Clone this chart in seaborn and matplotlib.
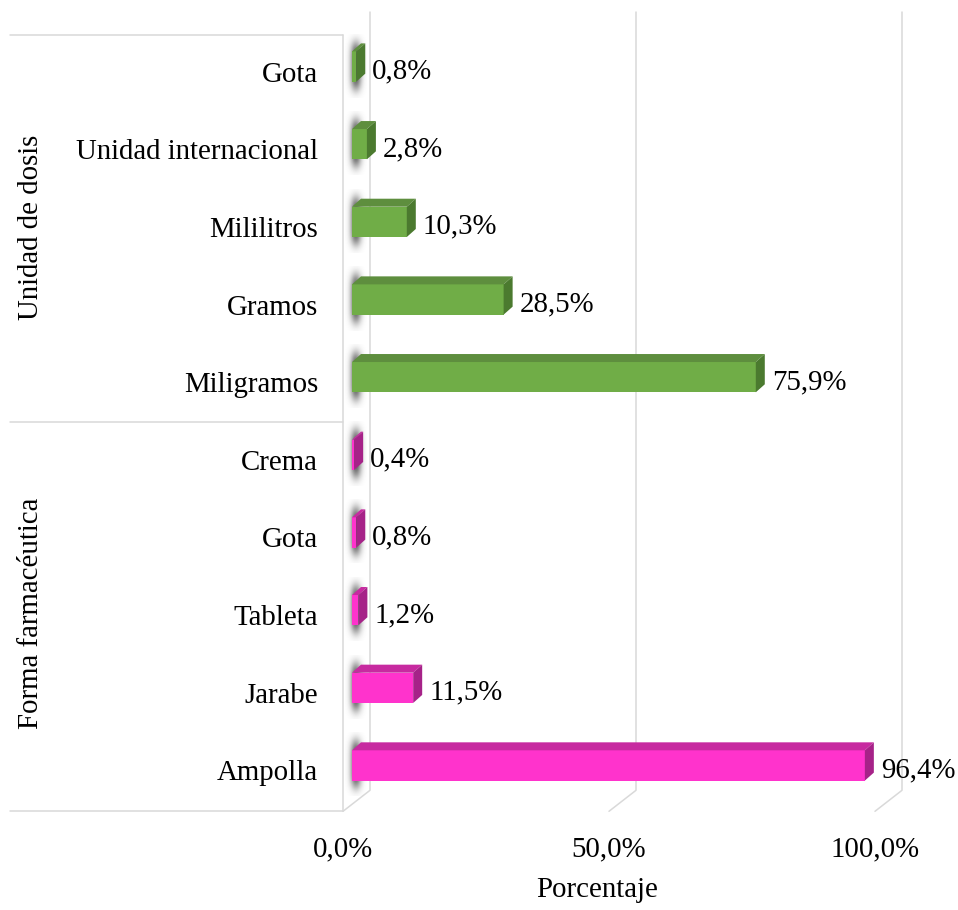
import numpy as np
import pandas as pd
import matplotlib
matplotlib.use("Agg")
import matplotlib.pyplot as plt
import seaborn as sns
from matplotlib.patches import Polygon
from matplotlib.lines import Line2D
from matplotlib.transforms import offset_copy

# ---- data ----
grupos = ["Unidad de dosis", "Forma farmacéutica"]
unidad_labels = ["Gota", "Unidad internacional", "Mililitros", "Gramos", "Miligramos"]
unidad_vals = [0.8, 2.8, 10.3, 28.5, 75.9]
forma_labels = ["Crema", "Gota", "Tableta", "Jarabe", "Ampolla"]
forma_vals = [0.4, 0.8, 1.2, 11.5, 96.4]
x_ticks = [0, 50, 100]
x_tick_labels = ["0,0%", "50,0%", "100,0%"]
x_title = "Porcentaje"

# ---- styling ----
W, H, DPI = 958, 910, 100
FS = 20.8
GRID = "#d9d9d9"
front_col = {grupos[0]: "#70AD47", grupos[1]: "#FF33CC"}
top_col = {grupos[0]: "#5E8E3E", grupos[1]: "#C72AA0"}
side_col = {grupos[0]: "#4B7A2F", grupos[1]: "#A62288"}
DEPTH = (9, 8)          # bar depth in pixels (right, up)
WALL = 18               # back wall offset from bar plane, pixels
FLOOR = (-9, -21)       # floor front edge offset from bar plane, pixels

sns.set_theme(style="white")
plt.rcParams["font.family"] = ["Liberation Serif", "DejaVu Serif"]

df = pd.DataFrame({
    "grupo": [grupos[0]] * len(unidad_labels) + [grupos[1]] * len(forma_labels),
    "categoria": unidad_labels + forma_labels,
    "valor": unidad_vals + forma_vals,
})
df["clave"] = [f"{g}|{c}" for g, c in zip(df["grupo"], df["categoria"])]
n = len(df)

fig = plt.figure(figsize=(W / DPI, H / DPI), dpi=DPI)
fig.patch.set_facecolor("white")


def fpx(x, y):
    """pixel position measured from the top-left corner -> figure fraction"""
    return x / W, 1 - y / H


ax = fig.add_axes([352 / W, 1 - 804.3 / H, 532 / W, 776.6 / H])
sns.barplot(data=df, y="clave", x="valor", hue="grupo", palette=front_col,
            orient="h", width=0.39, dodge=False, legend=False, saturation=1,
            linewidth=0, ax=ax, zorder=3)
ax.set_xlim(0, 100)
ax.set_ylim(n - 0.5, -0.5)
ax.set_autoscale_on(False)
ax.set_axis_off()


def shift(xd, yd, dx, dy):
    d = ax.transData.transform((xd, yd)) + np.array([dx, dy])
    return tuple(ax.transData.inverted().transform(d))


# soft shadow image cast on the back wall
gx = np.linspace(-1, 1, 40)
gy = np.linspace(-1, 1, 120)
GX, GY = np.meshgrid(gx, gy)
shadow = np.zeros((len(gy), len(gx), 4))
shadow[..., :3] = 0.22
shadow[..., 3] = 0.85 * np.exp(-(GX / 0.5) ** 2) * np.exp(-(GY / 0.75) ** 4)

# 3D faces of every bar
for p in list(ax.patches):
    x0, y0, w, h = p.get_x(), p.get_y(), p.get_width(), p.get_height()
    row = int(round(y0 + h / 2))
    g = df["grupo"].iloc[row]
    ytop, ybot = y0, y0 + h
    topf = [(x0, ytop), (x0 + w, ytop), shift(x0 + w, ytop, *DEPTH), shift(x0, ytop, *DEPTH)]
    sidef = [(x0 + w, ytop), (x0 + w, ybot), shift(x0 + w, ybot, *DEPTH), shift(x0 + w, ytop, *DEPTH)]
    ax.add_patch(Polygon(topf, closed=True, facecolor=top_col[g], edgecolor="none", zorder=3))
    ax.add_patch(Polygon(sidef, closed=True, facecolor=side_col[g], edgecolor="none", zorder=3))

    xl, yt = shift(0, row, -7, 33)
    xr, yb = shift(0, row, 15, -31)
    im = ax.imshow(shadow, extent=[xl, xr, yb, yt], aspect="auto", zorder=2,
                   interpolation="bilinear")
    im.set_clip_on(False)

ax.set_xlim(0, 100)
ax.set_ylim(n - 0.5, -0.5)

# back wall gridlines with their floor edges
top_px = 12
_, yb_disp = ax.transData.transform((0, n - 0.5))
y_wall_bottom = H - yb_disp - 14
for v in x_ticks:
    bx, _ = ax.transData.transform((v, 0))
    xb = bx + WALL
    xs = [xb, xb, bx + FLOOR[0]]
    ys = [top_px, y_wall_bottom, y_wall_bottom - FLOOR[1]]
    fx, fy = zip(*[fpx(a, b) for a, b in zip(xs, ys)])
    ax.add_line(Line2D(fx, fy, transform=fig.transFigure, color=GRID, lw=1.1,
                       clip_on=False, zorder=1))

# category panel frame
x_edge = ax.transData.transform((0, 0))[0] + FLOOR[0]
frame_y = [35, 422, y_wall_bottom - FLOOR[1]]
for yy in frame_y:
    fx, fy = zip(fpx(10, yy), fpx(x_edge, yy))
    fig.add_artist(Line2D(fx, fy, transform=fig.transFigure, color=GRID, lw=1.1))
fx, fy = zip(fpx(x_edge, frame_y[0]), fpx(x_edge, frame_y[-1]))
fig.add_artist(Line2D(fx, fy, transform=fig.transFigure, color=GRID, lw=1.1))

# category labels
for i, lab in enumerate(df["categoria"]):
    ax.text(0, i, lab, transform=offset_copy(ax.transData, fig=fig, x=-34, y=-15, units="dots"),
            ha="right", va="baseline", fontsize=FS, color="black")

# value labels
for i, v in enumerate(df["valor"]):
    ax.text(v, i, f"{v:.1f}%".replace(".", ","),
            transform=offset_copy(ax.transData, fig=fig, x=16, y=-12, units="dots"),
            ha="left", va="baseline", fontsize=FS, color="black")

# x tick labels on the floor's front edge
for v, lab in zip(x_ticks, x_tick_labels):
    ax.text(v, n - 0.5, lab, transform=offset_copy(ax.transData, fig=fig, x=FLOOR[0], y=-52, units="dots"),
            ha="center", va="baseline", fontsize=FS, color="black")

fig.text(*fpx(597, 897), x_title, ha="center", va="baseline", fontsize=FS, color="black")

# group labels
fig.text(*fpx(31, 227), grupos[0], rotation=90, ha="center", va="center", fontsize=FS, color="black")
fig.text(*fpx(31, 613), grupos[1], rotation=90, ha="center", va="center", fontsize=FS, color="black")

fig.savefig("out.png", dpi=DPI, facecolor="white")
